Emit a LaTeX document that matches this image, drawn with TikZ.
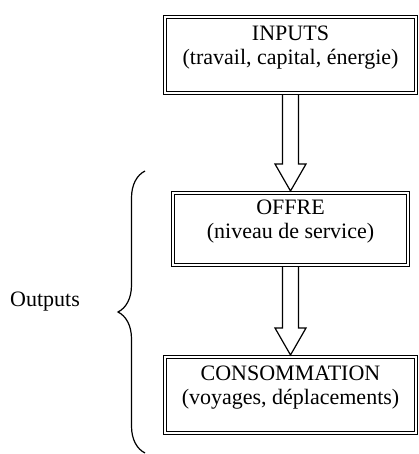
\documentclass[tikz,border=0pt]{standalone}
\usepackage{fontspec}
\setmainfont{Liberation Serif}
\usetikzlibrary{calc,decorations.pathreplacing}

\begin{document}
\begin{tikzpicture}[x=1pt,y=-1pt,
    txt/.style={font=\fontsize{22}{24}\selectfont},
    box/.style={txt,draw,double,line width=1pt,double distance=2pt,outer sep=2pt,
      inner sep=0pt,minimum height=76pt,align=center,text height=24pt,text depth=5pt},
    hollow/.style={line width=1.2pt,line join=miter,to path={let \p1=(\tikztostart),\p2=(\tikztotarget) in
      (\x1-\sw pt,\y1) -- (\x1-\sw pt,\y2+\hl pt) -- (\x1-\hw pt,\y2+\hl pt) -- (\x1,\y2)
      -- (\x1+\hw pt,\y2+\hl pt) -- (\x1+\sw pt,\y2+\hl pt) -- (\x1+\sw pt,\y1)}}]
  % Definition
  \pgfmathsetmacro{\sw}{8}
  \pgfmathsetmacro{\hw}{15.5}
  \pgfmathsetmacro{\hl}{27}
  \useasboundingbox (0,0) rectangle (419,454);

  % Boxes
  \node[box,minimum width=251pt] (inp) at (290.5,55) {INPUTS\\(travail, capital, énergie)};
  \node[box,minimum width=235pt,minimum height=72pt] (offre) at (290.5,229) {OFFRE\\(niveau de service)};
  \node[box,minimum width=251pt] (conso) at (290.5,395) {CONSOMMATION\\(voyages, déplacements)};

  % Arrows
  \draw[hollow] (inp.south) to (offre.north);
  \draw[hollow] (offre.south) to (conso.north);

  % Brace
  \coordinate (bbot) at (145,453);
  \coordinate (btop) at (145,171);
  \draw[line width=1.2pt,decorate,decoration={brace,amplitude=27pt}] (bbot) -- (btop);
  \node[txt] (outp) at (45,302) {Outputs};
\end{tikzpicture}
\end{document}
